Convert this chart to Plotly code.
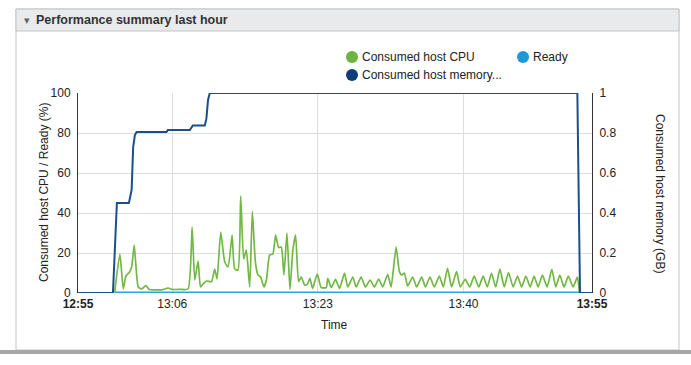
import plotly.graph_objects as go

# ---------------- data (minutes after 12:55) ----------------
cpu_minutes = [4.28, 4.89, 5.28, 5.59, 5.94, 6.26, 6.56, 7.03, 7.42, 7.92, 8.31, 8.97, 9.79, 10.52,
               10.95, 11.88, 12.85, 13.32, 13.63, 14.02, 14.30, 14.60, 14.99, 15.58, 15.96, 16.23,
               16.66, 17.13, 17.52, 17.99, 18.29, 18.68, 18.99, 19.34, 19.65, 20.04, 20.35, 20.70,
               21.01, 21.32, 21.71, 21.99, 22.37, 22.75, 23.07, 23.42, 23.73, 24.04, 24.39, 24.74,
               25.08, 25.40, 25.75, 26.06, 26.45, 26.76, 27.07, 27.38, 27.93, 28.39, 28.98, 29.16,
               29.56, 30.06, 30.53, 31.11, 31.49, 32.08, 32.47, 33.05, 33.55, 34.10, 34.60, 35.10,
               35.57, 36.15, 36.55, 37.13, 37.52, 37.78, 38.10, 38.48, 39.07, 39.53, 40.12, 40.55,
               41.09, 41.59, 42.18, 42.64, 43.14, 43.61, 44.19, 44.62, 45.21, 45.73, 46.25, 46.78,
               47.30, 47.77, 48.27, 48.76, 49.25, 49.75, 50.25, 50.80, 51.30, 51.79, 52.28, 52.78,
               53.24, 53.71, 54.21, 54.76, 55.31, 55.77, 56.24, 56.74, 57.24, 57.79, 58.29, 58.52]
cpu_values = [0.5, 19.5, 2, 8.5, 10, 13, 24, 3, 2, 3.7, 1.8, 1.6, 1.6, 2.5,
              1.8, 1.8, 2, 33, 6.5, 16, 3, 4.5, 6, 5.7, 12, 7,
              30.5, 15.5, 13, 29, 12, 11.5, 48.5, 17, 21.5, 3, 40.7, 15.7,
              9, 8, 3, 6.5, 19, 19.5, 29, 22.7, 23, 9, 30, 1.8,
              21.5, 29, 5.7, 8, 4, 4.3, 7.3, 2.3, 9.5, 2.7, 2.7, 7.3,
              2.7, 6.8, 2.3, 10, 3, 8, 3, 8, 3, 6.5, 3, 7,
              3, 9.3, 3, 23, 10.7, 9, 10, 3.5, 8, 3, 8, 3,
              8, 3, 8.5, 3, 12.3, 3, 10.7, 3, 6.8, 3, 8.5, 3,
              8.5, 3, 9.8, 3, 12, 3, 10.2, 3, 8.5, 3, 8.5, 3,
              8.5, 3, 9, 3, 11.8, 3, 9, 3, 8.5, 3, 8, 0.5]

ready_minutes = [4.28, 58.52]
ready_values = [0.3, 0.3]

mem_minutes = [0, 4.08, 4.54, 5.94, 6.26, 6.44, 6.64, 6.84, 10.33, 10.49, 13.05, 13.40,
               14.80, 14.99, 15.18, 15.38, 58.29, 58.60, 60]
mem_values = [0, 0, 0.45, 0.45, 0.515, 0.73, 0.79, 0.805, 0.805, 0.815, 0.815, 0.837,
              0.837, 0.873, 0.965, 1.0, 1.0, 0, 0]

tick_minutes = [0, 11, 28, 45, 60]
tick_labels = ["<b>12:55</b>", "13:06", "13:23", "13:40", "<b>13:55</b>"]

series_names = ["Consumed host CPU", "Ready", "Consumed host memory..."]
series_colors = ["#6db33f", "#1e9bd7", "#0f3f78"]

# ---------------- figure ----------------
FONT = "Arial, Liberation Sans, sans-serif"
W, H = 691, 365
L, R, T, B = 78, 99, 93, 72
PW, PH = W - L - R, H - T - B


def px(x):
    return (x - L) / PW


def py(y):
    return (H - B - y) / PH


fig = go.Figure()
fig.add_trace(go.Scatter(x=mem_minutes, y=mem_values, yaxis="y2", mode="lines",
                         line=dict(color="#1a4f8a", width=2), name=series_names[2],
                         hoverinfo="skip"))
fig.add_trace(go.Scatter(x=cpu_minutes, y=cpu_values, mode="lines",
                         line=dict(color="#72b845", width=1.7, shape="spline", smoothing=0.5),
                         name=series_names[0], hoverinfo="skip"))
fig.add_trace(go.Scatter(x=ready_minutes, y=ready_values, mode="lines",
                         line=dict(color="#2ea3dc", width=2), name=series_names[1],
                         hoverinfo="skip"))

shapes = [
    # panel border
    dict(type="rect", xref="paper", yref="paper", x0=px(16), x1=px(679), y0=py(350), y1=py(9),
         line=dict(color="#c4c4c4", width=1), fillcolor="rgba(0,0,0,0)", layer="below"),
    # header bar
    dict(type="rect", xref="paper", yref="paper", x0=px(16), x1=px(679), y0=py(31), y1=py(9),
         line=dict(color="#c4c4c4", width=1), fillcolor="#e9eaeb", layer="below"),
    # bottom gray bar
    dict(type="rect", xref="paper", yref="paper", x0=px(0), x1=px(691), y0=py(354), y1=py(350),
         line=dict(width=0), fillcolor="#a6a6a6", layer="below"),
]
legend_pos = [(352, 57), (523, 57), (352, 75)]
for (cx, cy), col in zip(legend_pos, series_colors):
    shapes.append(dict(type="circle", xref="paper", yref="paper",
                       x0=px(cx - 6), x1=px(cx + 6), y0=py(cy + 6), y1=py(cy - 6),
                       fillcolor=col, line=dict(width=0)))

annotations = [
    dict(text="▾", x=px(22), y=py(20), xref="paper", yref="paper", showarrow=False,
         xanchor="left", yanchor="middle", font=dict(family=FONT, size=11, color="#666")),
    dict(text="<b>Performance summary last hour</b>", x=px(34), y=py(20), xref="paper",
         yref="paper", showarrow=False, xanchor="left", yanchor="middle",
         font=dict(family=FONT, size=12.5, color="#333")),
    dict(text="Consumed host CPU / Ready (%)", x=px(44), y=py(193), xref="paper", yref="paper",
         showarrow=False, textangle=-90, xanchor="center", yanchor="middle",
         font=dict(family=FONT, size=12, color="#222")),
    dict(text="Consumed host memory (GB)", x=px(660), y=py(193), xref="paper", yref="paper",
         showarrow=False, textangle=90, xanchor="center", yanchor="middle",
         font=dict(family=FONT, size=12, color="#222")),
    dict(text="Time", x=px(334), y=py(325), xref="paper", yref="paper", showarrow=False,
         xanchor="center", yanchor="middle", font=dict(family=FONT, size=12, color="#222")),
]
for (cx, cy), name in zip(legend_pos, series_names):
    annotations.append(dict(text=name, x=px(cx + 8), y=py(cy), xref="paper", yref="paper",
                            showarrow=False, xanchor="left", yanchor="middle",
                            font=dict(family=FONT, size=12, color="#222")))

fig.update_layout(
    width=W, height=H,
    margin=dict(l=L, r=R, t=T, b=B, pad=0),
    paper_bgcolor="white", plot_bgcolor="white",
    showlegend=False,
    font=dict(family=FONT, size=12, color="#222"),
    xaxis=dict(range=[0, 60], tickvals=tick_minutes, ticktext=tick_labels, showgrid=True,
               gridcolor="#dedede", gridwidth=1, zeroline=False, showline=False, ticks="",
               ticklabelstandoff=2,
               tickfont=dict(family=FONT, size=12, color="#222"), fixedrange=True),
    yaxis=dict(range=[0, 100], tickvals=[0, 20, 40, 60, 80, 100], showgrid=True,
               gridcolor="#dedede", gridwidth=1, zeroline=False, showline=True,
               linecolor="#333", linewidth=1, ticks="", ticklabelstandoff=4,
               tickfont=dict(family=FONT, size=12, color="#222"), fixedrange=True),
    yaxis2=dict(range=[0, 1], tickvals=[0, 0.2, 0.4, 0.6, 0.8, 1], ticktext=["0", "0.2", "0.4", "0.6", "0.8", "1"],
                overlaying="y", side="right", showgrid=False, zeroline=False, showline=True,
                linecolor="#333", linewidth=1, ticks="", ticklabelstandoff=4,
                tickfont=dict(family=FONT, size=12, color="#222"), fixedrange=True),
    shapes=shapes,
    annotations=annotations,
)

fig.write_html("out.html", config={"displayModeBar": False})
